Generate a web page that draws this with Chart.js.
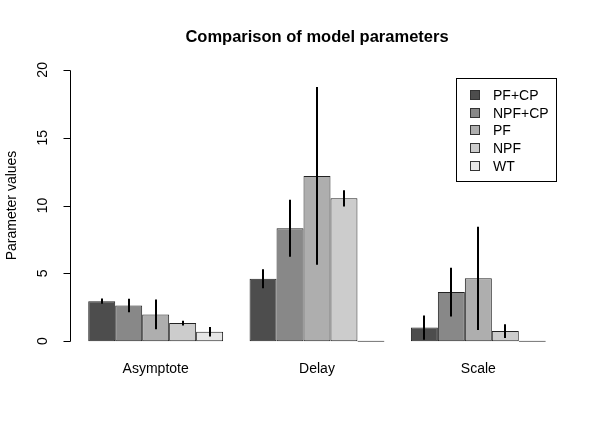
<!DOCTYPE html>
<html>
<head>
<meta charset="utf-8">
<script src="https://cdn.jsdelivr.net/npm/chart.js@4"></script>
<style>
  html, body { margin:0; padding:0; background:#fff; }
  #wrap { width:600px; height:429px; }
</style>
</head>
<body>
<div id="wrap"><canvas id="c" width="600" height="429"></canvas></div>
<script>
// --- Dane ---
const categories = ['Asymptote', 'Delay', 'Scale'];
const seriesNames = ['PF+CP', 'NPF+CP', 'PF', 'NPF', 'WT'];
const seriesColors = ['#4d4d4d', '#888888', '#aeaeae', '#cccccc', '#e6e6e6'];
const pfcp   = [2.95, 4.6, 1.0];
const npfcp  = [2.63, 8.32, 3.62];
const pf     = [1.97, 12.18, 4.63];
const npf    = [1.33, 10.53, 0.74];
const wt     = [0.69, 0, 0];
// polowa dlugosci slupkow bledu
const errPfcp  = [0.2, 0.7, 0.9];
const errNpfcp = [0.5, 2.1, 1.8];
const errPf    = [1.1, 6.55, 3.8];
const errNpf   = [0.18, 0.6, 0.5];
const errWt    = [0.35, 0, 0];
const yTicks = [0, 5, 10, 15, 20];

const values = [pfcp, npfcp, pf, npf, wt];
const errors = [errPfcp, errNpfcp, errPf, errNpf, errWt];
const FONT = '"Liberation Sans", Arial, Helvetica, sans-serif';

// --- Rysowanie osi, bledow, legendy ---
const rStyle = {
  id: 'rStyle',
  afterDatasetsDraw(chart){
    const ctx = chart.ctx;
    // slupki bledu
    ctx.save();
    ctx.strokeStyle = '#000'; ctx.lineWidth = 2;
    chart.data.datasets.forEach((ds, i) => {
      const meta = chart.getDatasetMeta(i);
      meta.data.forEach((bar, j) => {
        const e = errors[i][j];
        if(!e) return;
        const y = chart.scales.y;
        ctx.beginPath();
        ctx.moveTo(Math.round(bar.x), y.getPixelForValue(ds.data[j] + e));
        ctx.lineTo(Math.round(bar.x), y.getPixelForValue(ds.data[j] - e));
        ctx.stroke();
      });
    });
    ctx.restore();
  },
  afterDraw(chart){
    const ctx = chart.ctx, y = chart.scales.y, x = chart.scales.x, area = chart.chartArea;
    ctx.save();
    // os Y
    const ax = Math.round(area.left - 5) + 0.5;
    ctx.strokeStyle = '#000'; ctx.lineWidth = 1;
    ctx.beginPath();
    ctx.moveTo(ax, Math.round(y.getPixelForValue(yTicks[0])) + 0.5);
    ctx.lineTo(ax, Math.round(y.getPixelForValue(yTicks[yTicks.length-1])) + 0.5);
    yTicks.forEach(t => {
      const py = Math.round(y.getPixelForValue(t)) + 0.5;
      ctx.moveTo(ax, py); ctx.lineTo(ax - 7, py);
    });
    ctx.stroke();
    ctx.fillStyle = '#000';
    ctx.font = '14px ' + FONT;
    ctx.textAlign = 'center'; ctx.textBaseline = 'middle';
    yTicks.forEach(t => {
      ctx.save();
      ctx.translate(ax - 27, y.getPixelForValue(t));
      ctx.rotate(-Math.PI/2);
      ctx.fillText(String(t), 0, 0);
      ctx.restore();
    });
    // etykieta osi Y
    ctx.save();
    ctx.translate(12, (y.getPixelForValue(0) + y.getPixelForValue(20)) / 2);
    ctx.rotate(-Math.PI/2);
    ctx.fillText('Parameter values', 0, 0);
    ctx.restore();
    // etykiety kategorii
    categories.forEach((c, i) => ctx.fillText(c, x.getPixelForValue(i), 369));
    // tytul
    ctx.font = 'bold 16.5px ' + FONT;
    ctx.fillText('Comparison of model parameters', (area.left - 5 + area.right + 5) / 2, 37);
    // legenda
    const lx = 456, ly = 78, lw = 100, lh = 103;
    ctx.strokeStyle = '#000';
    ctx.strokeRect(lx + 0.5, ly + 0.5, lw, lh);
    ctx.font = '14px ' + FONT;
    ctx.textAlign = 'left';
    chart.data.datasets.forEach((ds, i) => {
      const cy = 95 + i * 17.7;
      ctx.fillStyle = ds.backgroundColor;
      ctx.fillRect(470, Math.round(cy - 5), 10, 10);
      ctx.strokeStyle = '#333';
      ctx.strokeRect(470.5, Math.round(cy - 5) + 0.5, 9, 9);
      ctx.fillStyle = '#000';
      ctx.fillText(ds.label, 493, cy + 1);
    });
    ctx.restore();
  }
};

new Chart(document.getElementById('c'), {
  type: 'bar',
  data: {
    labels: categories,
    datasets: seriesNames.map((n, i) => ({
      label: n,
      data: values[i],
      backgroundColor: seriesColors[i],
      borderColor: '#222',
      borderWidth: 1,
      borderSkipped: false,
      minBarLength: 1,
      categoryPercentage: 0.836,
      barPercentage: 1
    }))
  },
  options: {
    responsive: false,
    animation: false,
    devicePixelRatio: 1,
    layout: { padding: { left: 75, right: 41, top: 59, bottom: 77 } },
    plugins: { legend: { display: false }, tooltip: { enabled: false }, title: { display: false } },
    scales: {
      x: { display: false, offset: true, grid: { display: false } },
      y: { display: false, min: -0.8, max: 20.8, grid: { display: false } }
    }
  },
  plugins: [rStyle]
});
</script>
</body>
</html>
